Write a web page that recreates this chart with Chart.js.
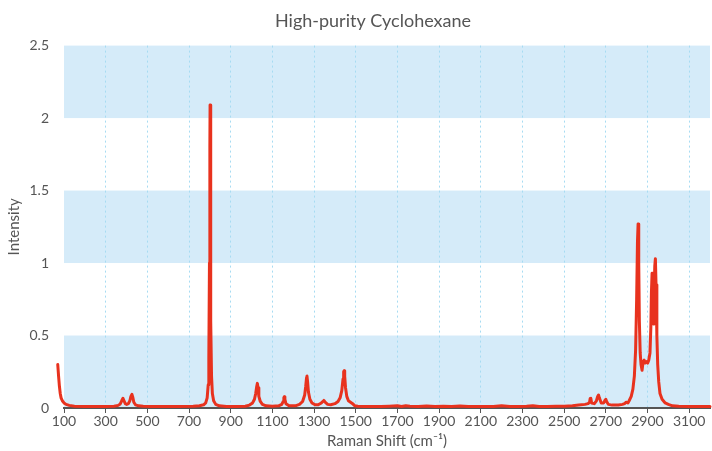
<!DOCTYPE html>
<html>
<head>
<meta charset="utf-8">
<script src="https://cdn.jsdelivr.net/npm/chart.js@4"></script>
<style>
  html, body { margin: 0; padding: 0; background: #fff; }
  #wrap { width: 712px; height: 451px; }
</style>
</head>
<body>
<div id="wrap"><canvas id="spectrum"></canvas></div>
<script>
// Raman spectrum
const ramanShift = [
  70, 74, 78, 82, 86, 92, 100, 110, 125, 150, 200, 250, 300, 340,
  360, 370, 377, 383, 388, 394, 401, 409,
  416, 421, 426, 430, 435, 443, 458, 480, 520, 580, 650, 720, 750, 770,
  780, 787, 792, 795, 798, 800, 801, 803, 805, 808, 812, 818, 828, 845, 880, 930, 970,
  990, 1005, 1014, 1020, 1025, 1028, 1031, 1035, 1042, 1052, 1070, 1100, 1130, 1145,
  1152, 1155, 1157, 1160, 1165, 1180, 1210, 1230,
  1245, 1255, 1260, 1264, 1266, 1269, 1273, 1280, 1290, 1305, 1320, 1335,
  1342, 1347, 1353, 1365, 1380, 1400, 1415,
  1425, 1433, 1439, 1442, 1444, 1447, 1451, 1457, 1465, 1475, 1485, 1495, 1510,
  1540, 1580, 1620, 1660, 1700, 1720, 1740, 1760, 1800, 1840, 1880, 1920, 1960,
  2000, 2040, 2080, 2120, 2160, 2200, 2240, 2280, 2320, 2350, 2380, 2420, 2460,
  2500, 2540, 2570, 2600, 2615,
  2622, 2625, 2628, 2632, 2645, 2655, 2661, 2665, 2669, 2678, 2690, 2697, 2700, 2704,
  2712, 2730, 2760, 2780, 2790, 2798, 2806,
  2812, 2822, 2830, 2837, 2843, 2848, 2852, 2855, 2858, 2861, 2865, 2869, 2874,
  2879, 2884, 2889, 2895, 2901, 2906, 2912, 2916, 2919, 2922, 2925, 2928, 2931,
  2935, 2938, 2941, 2945, 2949, 2954, 2960, 2970, 2985, 3000, 3020, 3050, 3100,
  3150, 3200
];
const intensity = [
  0.30, 0.22, 0.15, 0.10, 0.07, 0.05, 0.035, 0.025, 0.018, 0.012, 0.01, 0.01, 0.01, 0.012,
  0.018, 0.028, 0.05, 0.067, 0.05, 0.03, 0.025, 0.03,
  0.05, 0.08, 0.094, 0.075, 0.04, 0.022, 0.015, 0.012, 0.01, 0.01, 0.01, 0.012, 0.015, 0.022,
  0.035, 0.07, 0.16, 0.35, 1.0, 1.8, 2.09, 1.5, 0.6, 0.22, 0.1, 0.05, 0.025, 0.015, 0.01, 0.01, 0.012,
  0.02, 0.035, 0.06, 0.1, 0.15, 0.17, 0.14, 0.08, 0.045, 0.025, 0.015, 0.012, 0.015, 0.025,
  0.045, 0.07, 0.078, 0.06, 0.03, 0.015, 0.015, 0.025,
  0.045, 0.09, 0.15, 0.21, 0.22, 0.18, 0.11, 0.06, 0.035, 0.022, 0.022, 0.035,
  0.045, 0.052, 0.04, 0.025, 0.022, 0.03, 0.045,
  0.07, 0.12, 0.2, 0.25, 0.257, 0.22, 0.14, 0.08, 0.05, 0.04, 0.03, 0.015, 0.012,
  0.01, 0.01, 0.01, 0.012, 0.015, 0.01, 0.016, 0.012, 0.01, 0.014, 0.01, 0.012, 0.01,
  0.014, 0.01, 0.01, 0.01, 0.01, 0.015, 0.01, 0.01, 0.012, 0.016, 0.01, 0.01, 0.012,
  0.012, 0.015, 0.02, 0.025, 0.03,
  0.04, 0.065, 0.067, 0.035, 0.03, 0.05, 0.08, 0.09, 0.07, 0.035, 0.035, 0.055, 0.06, 0.045,
  0.025, 0.02, 0.02, 0.025, 0.03, 0.04, 0.035,
  0.05, 0.08, 0.13, 0.22, 0.4, 0.75, 1.15, 1.27, 1.0, 0.6, 0.38, 0.3, 0.26,
  0.32, 0.33, 0.31, 0.32, 0.31, 0.33, 0.38, 0.55, 0.8, 0.93, 0.8, 0.58, 0.75,
  0.98, 1.03, 0.85, 0.5, 0.3, 0.18, 0.1, 0.06, 0.035, 0.025, 0.015, 0.012, 0.01,
  0.01, 0.01
];
const xTicks = [100, 300, 500, 700, 900, 1100, 1300, 1500, 1700, 1900, 2100, 2300, 2500, 2700, 2900, 3100];
const xRange = [100, 3200];
const bandRanges = [[0, 0.5], [1, 1.5], [2, 2.5]];

// light blue stripes behind the plot
const bandsPlugin = {
  id: 'bands',
  beforeDraw(chart) {
    const { ctx, chartArea, scales } = chart;
    ctx.save();
    ctx.fillStyle = 'rgb(213,235,249)';
    bandRanges.forEach(([lo, hi]) => {
      const yTop = scales.y.getPixelForValue(hi);
      const yBot = scales.y.getPixelForValue(lo);
      ctx.fillRect(chartArea.left, yTop, chartArea.right - chartArea.left, yBot - yTop);
    });
    ctx.restore();
  },
  afterLayout(chart) {
    // title sits a bit right of the canvas centre
    const t = chart.titleBlock;
    if (t) { t.left = 36; t.width = t.right - t.left; }
  }
};

Chart.defaults.font.family = 'Lato, "Open Sans", sans-serif';
Chart.defaults.color = '#555';

new Chart(document.getElementById('spectrum'), {
  type: 'line',
  data: {
    datasets: [{
      label: 'Intensity',
      data: ramanShift.map((x, i) => ({ x: x, y: intensity[i] })),
      borderColor: '#e8321e',
      borderWidth: 3,
      borderJoinStyle: 'round',
      borderCapStyle: 'round',
      pointRadius: 0,
      tension: 0,
      clip: false
    }]
  },
  options: {
    responsive: true,
    maintainAspectRatio: false,
    animation: false,
    layout: { padding: { left: 0, right: 2, top: 0, bottom: 0 } },
    plugins: {
      legend: { display: false },
      tooltip: { enabled: false },
      title: {
        display: true,
        text: 'High-purity Cyclohexane',
        font: { size: 18, weight: 'normal' },
        color: '#555',
        padding: { top: 10, bottom: 14 }
      }
    },
    scales: {
      x: {
        type: 'linear',
        bounds: 'data',
        // range set here so the first points below 100 still get drawn
        afterDataLimits(scale) {
          scale.min = xRange[0];
          scale.max = xRange[1];
        },
        afterBuildTicks(scale) {
          scale.ticks = xTicks.map(v => ({ value: v }));
        },
        afterFit(scale) { scale.height = 43; },
        ticks: {
          font: { size: 14 }, color: '#555', padding: 0, maxRotation: 0, autoSkip: false,
          callback: v => String(v)
        },
        grid: {
          color: ctx => (ctx.tick && ctx.tick.value === 100 ? 'rgba(0,0,0,0)' : '#a6dbf2'),
          lineWidth: 1,
          drawTicks: true,
          tickLength: 5,
          tickColor: '#555',
          tickWidth: 1,
          tickBorderDash: []
        },
        border: { display: true, color: '#555', width: 2, dash: [2, 3] },
        title: {
          display: true,
          text: 'Raman Shift (cm⁻¹)',
          font: { size: 15 },
          color: '#555',
          padding: { top: 2, bottom: 1 }
        }
      },
      y: {
        min: 0,
        max: 2.5,
        afterFit(scale) { scale.width = 64; },
        ticks: { stepSize: 0.5, font: { size: 14 }, color: '#555', padding: 15, callback: v => String(v) },
        grid: { display: false, drawTicks: false },
        border: { display: false },
        title: {
          display: true,
          text: 'Intensity',
          font: { size: 15 },
          color: '#555',
          padding: { top: 5, bottom: 0 }
        }
      }
    }
  },
  plugins: [bandsPlugin]
});
</script>
</body>
</html>
